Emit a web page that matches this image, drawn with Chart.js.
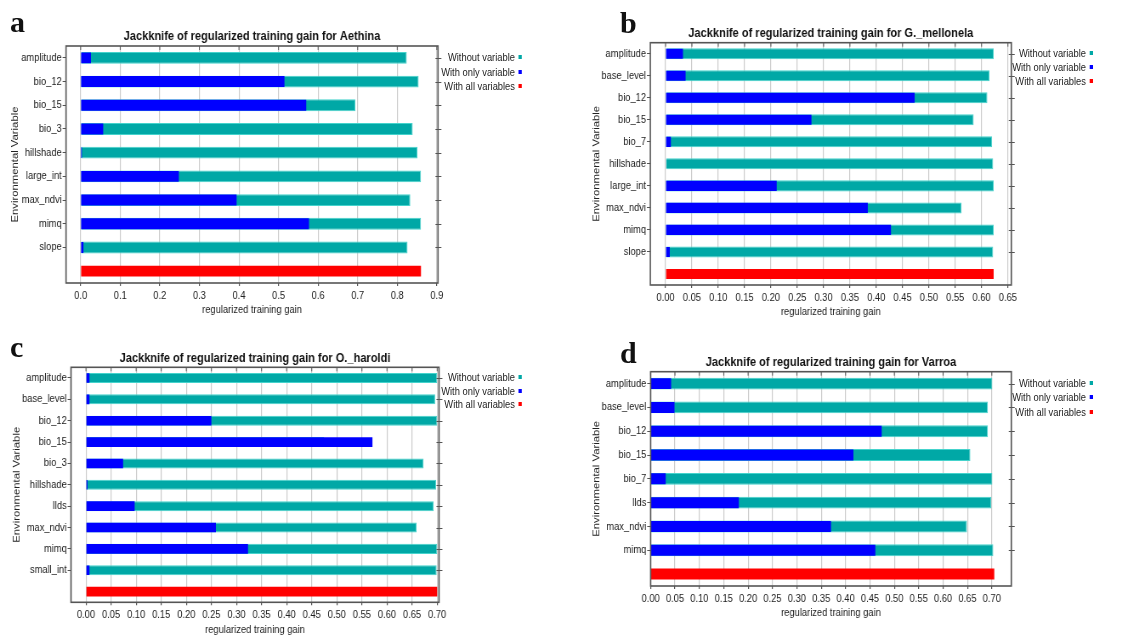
<!DOCTYPE html>
<html>
<head>
<meta charset="utf-8">
<script src="https://cdn.jsdelivr.net/npm/chart.js@4.4.1/dist/chart.umd.min.js"></script>
<style>
  body { margin: 0; background: #fff; }
  #page { position: relative; width: 1148px; height: 635px; overflow: hidden; background: #fff; }
  /* the source figure is squeezed sideways, so the drawing is too */
  #stage { position: absolute; left: 0; top: 0; width: 1351px; height: 635px; transform: scaleX(0.85); transform-origin: 0 0; }
  canvas { position: absolute; }
  .letter { position: absolute; font: bold 30px "Liberation Serif", "DejaVu Serif", serif; line-height: 30px; color: #111; }
  .leg { position: absolute; width: 160px; text-align: right; font: 11px "Liberation Sans", Arial, sans-serif; line-height: 14px; color: #222; white-space: nowrap; }
  .leg i { display: inline-block; width: 4px; height: 4px; margin-left: 4px; vertical-align: 2px; }
</style>
</head>
<body>
<div id="page">
  <div id="stage">
    <canvas id="chartA"></canvas>
    <canvas id="chartB"></canvas>
    <canvas id="chartC"></canvas>
    <canvas id="chartD"></canvas>
  </div>
  <div class="letter" style="left:10px;top:7px">a</div>
  <div class="letter" style="left:620px;top:8px">b</div>
  <div class="letter" style="left:10px;top:332px">c</div>
  <div class="letter" style="left:620px;top:338px">d</div>
</div>
<script>
// Aethina
let aethinaVars = ["amplitude", "bio_12", "bio_15", "bio_3", "hillshade", "large_int", "max_ndvi", "mimq", "slope"];
let aethinaWithout = [0.824, 0.854, 0.694, 0.839, 0.851, 0.860, 0.833, 0.860, 0.826];
let aethinaOnly = [0.026, 0.515, 0.570, 0.057, 0.003, 0.248, 0.394, 0.577, 0.007];
let aethinaAll = 0.860;
let aethinaTicks = [0, 0.1, 0.2, 0.3, 0.4, 0.5, 0.6, 0.7, 0.8, 0.9];

// G. mellonela
let mellonelaVars = ["amplitude", "base_level", "bio_12", "bio_15", "bio_7", "hillshade", "large_int", "max_ndvi", "mimq", "slope"];
let mellonelaWithout = [0.623, 0.615, 0.611, 0.585, 0.620, 0.622, 0.623, 0.562, 0.623, 0.622];
let mellonelaOnly = [0.033, 0.038, 0.473, 0.277, 0.010, 0.001, 0.211, 0.384, 0.428, 0.008];
let mellonelaAll = 0.623;
let mellonelaTicks = [0, 0.05, 0.1, 0.15, 0.2, 0.25, 0.3, 0.35, 0.4, 0.45, 0.5, 0.55, 0.6, 0.65];

// O. haroldi
let haroldiVars = ["amplitude", "base_level", "bio_12", "bio_15", "bio_3", "hillshade", "llds", "max_ndvi", "mimq", "small_int"];
let haroldiWithout = [0.700, 0.696, 0.700, 0.475, 0.673, 0.698, 0.693, 0.659, 0.700, 0.699];
let haroldiOnly = [0.007, 0.007, 0.250, 0.571, 0.074, 0.003, 0.097, 0.259, 0.323, 0.007];
let haroldiAll = 0.700;
let haroldiTicks = [0, 0.05, 0.1, 0.15, 0.2, 0.25, 0.3, 0.35, 0.4, 0.45, 0.5, 0.55, 0.6, 0.65, 0.7];

// Varroa
let varroaVars = ["amplitude", "base_level", "bio_12", "bio_15", "bio_7", "llds", "max_ndvi", "mimq"];
let varroaWithout = [0.701, 0.692, 0.692, 0.656, 0.701, 0.699, 0.649, 0.703];
let varroaOnly = [0.042, 0.049, 0.474, 0.416, 0.031, 0.181, 0.370, 0.461];
let varroaAll = 0.705;
let varroaTicks = [0, 0.05, 0.1, 0.15, 0.2, 0.25, 0.3, 0.35, 0.4, 0.45, 0.5, 0.55, 0.6, 0.65, 0.7];

let legendLabels = ["Without variable", "With only variable", "With all variables"];
let legendColors = ["#00a8a6", "#0000ff", "#ff0000"];

let SX = 0.85; // horizontal squeeze of the stage
Chart.defaults.font.family = "'Liberation Sans', Arial, sans-serif";
Chart.defaults.color = "#222";

// frame round the plot, with small tick marks on top and right edges
let framePlugin = {
    id: "frame",
    afterDraw(chart) {
        let a = chart.chartArea, ctx = chart.ctx;
        ctx.save();
        ctx.strokeStyle = "#555";
        ctx.lineWidth = 1.6;
        ctx.strokeRect(a.left, a.top, a.right - a.left, a.bottom - a.top);
        ctx.lineWidth = 1;
        ctx.beginPath();
        chart.scales.x.ticks.forEach(t => {
            let px = chart.scales.x.getPixelForValue(t.value);
            ctx.moveTo(px, a.top); ctx.lineTo(px, a.top + 4);
        });
        chart.scales.y.ticks.forEach((t, i) => {
            if (!t.label) return;
            let py = Math.round(chart.scales.y.getPixelForValue(i)) + 0.5;
            ctx.moveTo(a.right - 3, py); ctx.lineTo(a.right + 4, py);
        });
        ctx.stroke();
        ctx.restore();
    }
};

// box: panel placement in page pixels
function makeJackknife(id, name, vars, without, only, all, ticks, box) {
    let cv = document.getElementById(id);
    let w = Math.round(box.w / SX);
    cv.width = w; cv.height = box.h;
    cv.style.left = (box.left / SX) + "px";
    cv.style.top = box.top + "px";
    let plotL = box.plotL / SX, plotR = box.plotR / SX;
    let n = vars.length;

    let labels = vars.concat([""]);
    let withoutData = without.concat([null]);
    let onlyData = only.concat([null]);
    let allData = vars.map(() => null).concat([all]);
    return new Chart(cv, {
        type: "bar",
        data: {
            labels: labels,
            datasets: [
                { label: legendLabels[1], data: onlyData, backgroundColor: legendColors[1], order: 0,
                  barPercentage: box.bar, categoryPercentage: 1 },
                { label: legendLabels[0], data: withoutData, backgroundColor: legendColors[0], order: 1,
                  borderColor: "#45d3cc", borderWidth: 1, barPercentage: box.teal, categoryPercentage: 1 },
                { label: legendLabels[2], data: allData, backgroundColor: legendColors[2], order: 2,
                  barPercentage: box.bar, categoryPercentage: 1 }
            ]
        },
        options: {
            indexAxis: "y",
            responsive: false,
            animation: false,
            grouped: false,
            layout: { padding: { left: 2, top: box.plotT - 15.6 - 1.5, right: w - plotR, bottom: box.h - box.plotB - 36 } },
            plugins: {
                legend: { display: false },
                tooltip: { enabled: false },
                title: {
                    display: true, fullSize: false,
                    text: "Jackknife of regularized training gain for " + name,
                    font: { size: 13, weight: "bold" }, color: "#111",
                    padding: { top: 0, bottom: 1.5 }
                }
            },
            scales: {
                x: {
                    type: "linear", min: box.min, max: box.max,
                    afterBuildTicks: s => { s.ticks = ticks.map(v => ({ value: v })); },
                    afterFit: s => { s.height = 36; },
                    ticks: { font: { size: 11 }, padding: 3, color: "#222", callback: v => Number(v).toFixed(box.digits), maxRotation: 0, autoSkip: false },
                    grid: { color: "#cccccc", tickColor: "#555", tickLength: 3, lineWidth: 1.2 },
                    border: { display: false },
                    title: { display: true, text: "regularized training gain", font: { size: 11 }, color: "#222", padding: { top: 0, bottom: 2 } }
                },
                y: {
                    afterFit: s => { s.width = plotL - 2; },
                    ticks: { font: { size: 11 }, padding: 1, color: "#222" },
                    grid: { drawOnChartArea: false, offset: false, tickLength: 4,
                            tickColor: c => c.index === n ? "rgba(0,0,0,0)" : "#555" },
                    border: { display: false },
                    title: { display: true, text: "Environmental Variable", font: { size: 11.3 }, color: "#222",
                             padding: { top: box.yTitlePad, bottom: 0 } }
                }
            }
        },
        plugins: [framePlugin]
    });
}

function addLegend(textRight, rows) {
    let stage = document.getElementById("stage");
    legendLabels.forEach((lab, i) => {
        let d = document.createElement("div");
        d.className = "leg";
        d.style.left = (textRight / SX + 8 - 160) + "px";
        d.style.top = (rows[i] - 7) + "px";
        d.innerHTML = lab + `<i style="background:${legendColors[i]}"></i>`;
        stage.appendChild(d);
    });
}

makeJackknife("chartA", "Aethina", aethinaVars, aethinaWithout, aethinaOnly, aethinaAll, aethinaTicks,
    { left: 0, top: 0, w: 574, h: 317, plotL: 66, plotR: 438, plotT: 46, plotB: 283, min: -0.037, max: 0.903, digits: 1, yTitlePad: 9, teal: 0.5, bar: 0.46 });
makeJackknife("chartB", "G._mellonela", mellonelaVars, mellonelaWithout, mellonelaOnly, mellonelaAll, mellonelaTicks,
    { left: 575, top: 0, w: 573, h: 317, plotL: 75.7, plotR: 436.7, plotT: 42.7, plotB: 285, min: -0.029, max: 0.6565, digits: 2, yTitlePad: 17.3, teal: 0.5, bar: 0.46 });
makeJackknife("chartC", "O._haroldi", haroldiVars, haroldiWithout, haroldiOnly, haroldiAll, haroldiTicks,
    { left: 0, top: 315, w: 574, h: 320, plotL: 71, plotR: 439, plotT: 52.3, plotB: 287.3, min: -0.0298, max: 0.7037, digits: 2, yTitlePad: 11, teal: 0.47, bar: 0.45 });
makeJackknife("chartD", "Varroa", varroaVars, varroaWithout, varroaOnly, varroaAll, varroaTicks,
    { left: 575, top: 315, w: 573, h: 320, plotL: 76, plotR: 436.7, plotT: 56.7, plotB: 271, min: 0, max: 0.74, digits: 2, yTitlePad: 17.3, teal: 0.5, bar: 0.46 });

addLegend(515, [57, 72, 86]);
addLegend(1086, [53, 67, 81]);
addLegend(515, [377, 391, 404]);
addLegend(1086, [383, 397, 412]);
</script>
</body>
</html>
